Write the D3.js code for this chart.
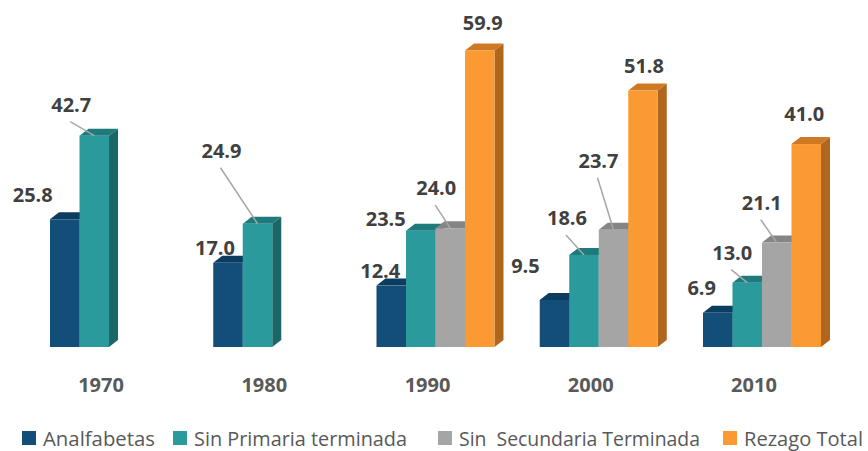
<!DOCTYPE html>
<html>
<head>
<meta charset="utf-8">
<script src="https://cdn.jsdelivr.net/npm/d3@7"></script>
<style>
  body { margin: 0; background: #fff; }
  svg { display: block; }
</style>
</head>
<body>
<div id="chart"></div>
<script>
const years = ["1970", "1980", "1990", "2000", "2010"];
const seriesNames = ["Analfabetas", "Sin Primaria terminada", "Sin  Secundaria Terminada", "Rezago Total"];
const analfabetas = [25.8, 17.0, 12.4, 9.5, 6.9];
const sinPrimaria = [42.7, 24.9, 23.5, 18.6, 13.0];
const sinSecundaria = [null, null, 24.0, 23.7, 21.1];
const rezagoTotal = [null, null, 59.9, 51.8, 41.0];

// label nudges as placed in the original (dx, dy from bar top centre, leader line?)
const labelNudge = [
  [[-32, -17, 0], [-13, -8, 0], [-11, -8, 0], [-29, -27, 0], [-16, -18, 0]],
  [[-23, -24, 1], [-36, -66, 1], [-35, -5, 0], [-17, -30, 1], [-15, -23, 1]],
  [null, null, [-14, -33, 1], [-15, -62, 1], [-15, -33, 1]],
  [null, null, [3, -20, 0], [1, -18, 0], [-2, -23, 0]]
];

const values = [analfabetas, sinPrimaria, sinSecundaria, rezagoTotal];
const front = ["#124e78", "#2a9a9c", "#a5a5a5", "#fb9a32"];
const topC  = ["#0c3d60", "#1f7a7c", "#858585", "#cf7a22"];
const sideC = ["#0a3252", "#1b6667", "#7a7a7a", "#b0661c"];

const width = 868, height = 451;
const depthX = 9, depthY = 7;

const svg = d3.select("#chart").append("svg")
  .attr("width", width)
  .attr("height", height);

const x = d3.scaleBand()
  .domain(years)
  .range([50, 821])
  .paddingInner(0.277)
  .paddingOuter(0);

const inner = d3.scaleBand()
  .domain(d3.range(4))
  .range([0, x.bandwidth()]);

const y = d3.scaleLinear()
  .domain([0, 60])
  .range([347, 50]);

const bars = [];
years.forEach((yr, i) => {
  values.forEach((s, j) => {
    if (s[i] == null) return;
    bars.push({ yr, i, j, v: s[i] });
  });
});

const g = svg.append("g");
bars.forEach(b => {
  const x0 = x(b.yr) + inner(b.j), w = inner.bandwidth();
  const t = y(b.v), bot = y(0);
  const bg = g.append("g");
  bg.append("polygon")
    .attr("points", [[x0 + w, t], [x0 + w + depthX, t - depthY], [x0 + w + depthX, bot - depthY], [x0 + w, bot]].join(" "))
    .attr("fill", sideC[b.j]);
  bg.append("polygon")
    .attr("points", [[x0, t], [x0 + depthX, t - depthY], [x0 + w + depthX, t - depthY], [x0 + w, t]].join(" "))
    .attr("fill", topC[b.j]);
  bg.append("rect")
    .attr("x", x0).attr("y", t)
    .attr("width", w).attr("height", bot - t)
    .attr("fill", front[b.j]);
});

// value labels
bars.forEach(b => {
  const n = labelNudge[b.j][b.i];
  const cx = x(b.yr) + inner(b.j) + inner.bandwidth() / 2;
  const t = y(b.v);
  const lx = cx + n[0], by = t + n[1];
  if (n[2]) {
    svg.append("line")
      .attr("x1", lx - 1).attr("y1", by + 10)
      .attr("x2", cx).attr("y2", t)
      .attr("stroke", "#a6a6a6")
      .attr("stroke-width", 1.5);
  }
  svg.append("text")
    .attr("x", lx).attr("y", by)
    .attr("text-anchor", "middle")
    .attr("font-family", "Open Sans, sans-serif")
    .attr("font-weight", "bold")
    .attr("font-size", 20)
    .attr("fill", "#404040")
    .text(b.v.toFixed(1));
});

// year labels
svg.append("g").selectAll("text")
  .data(years)
  .join("text")
  .attr("x", d => x(d) + x.bandwidth() / 2 - 8)
  .attr("y", 392)
  .attr("text-anchor", "middle")
  .attr("font-family", "Open Sans, sans-serif")
  .attr("font-weight", "bold")
  .attr("font-size", 20)
  .attr("fill", "#595959")
  .text(d => d);

// legend
const legX = [22, 173, 438, 723];
const legW = [112, 213, 241, 119];
const leg = svg.append("g");
seriesNames.forEach((name, j) => {
  leg.append("rect")
    .attr("x", legX[j]).attr("y", 431)
    .attr("width", 14).attr("height", 14)
    .attr("fill", front[j]);
  leg.append("text")
    .attr("x", legX[j] + 21).attr("y", 446)
    .attr("font-family", "Open Sans, sans-serif")
    .attr("font-size", 20)
    .attr("fill", "#595959")
    .attr("textLength", legW[j])
    .attr("lengthAdjust", "spacingAndGlyphs")
    .style("white-space", "pre")
    .text(name);
});
</script>
</body>
</html>
